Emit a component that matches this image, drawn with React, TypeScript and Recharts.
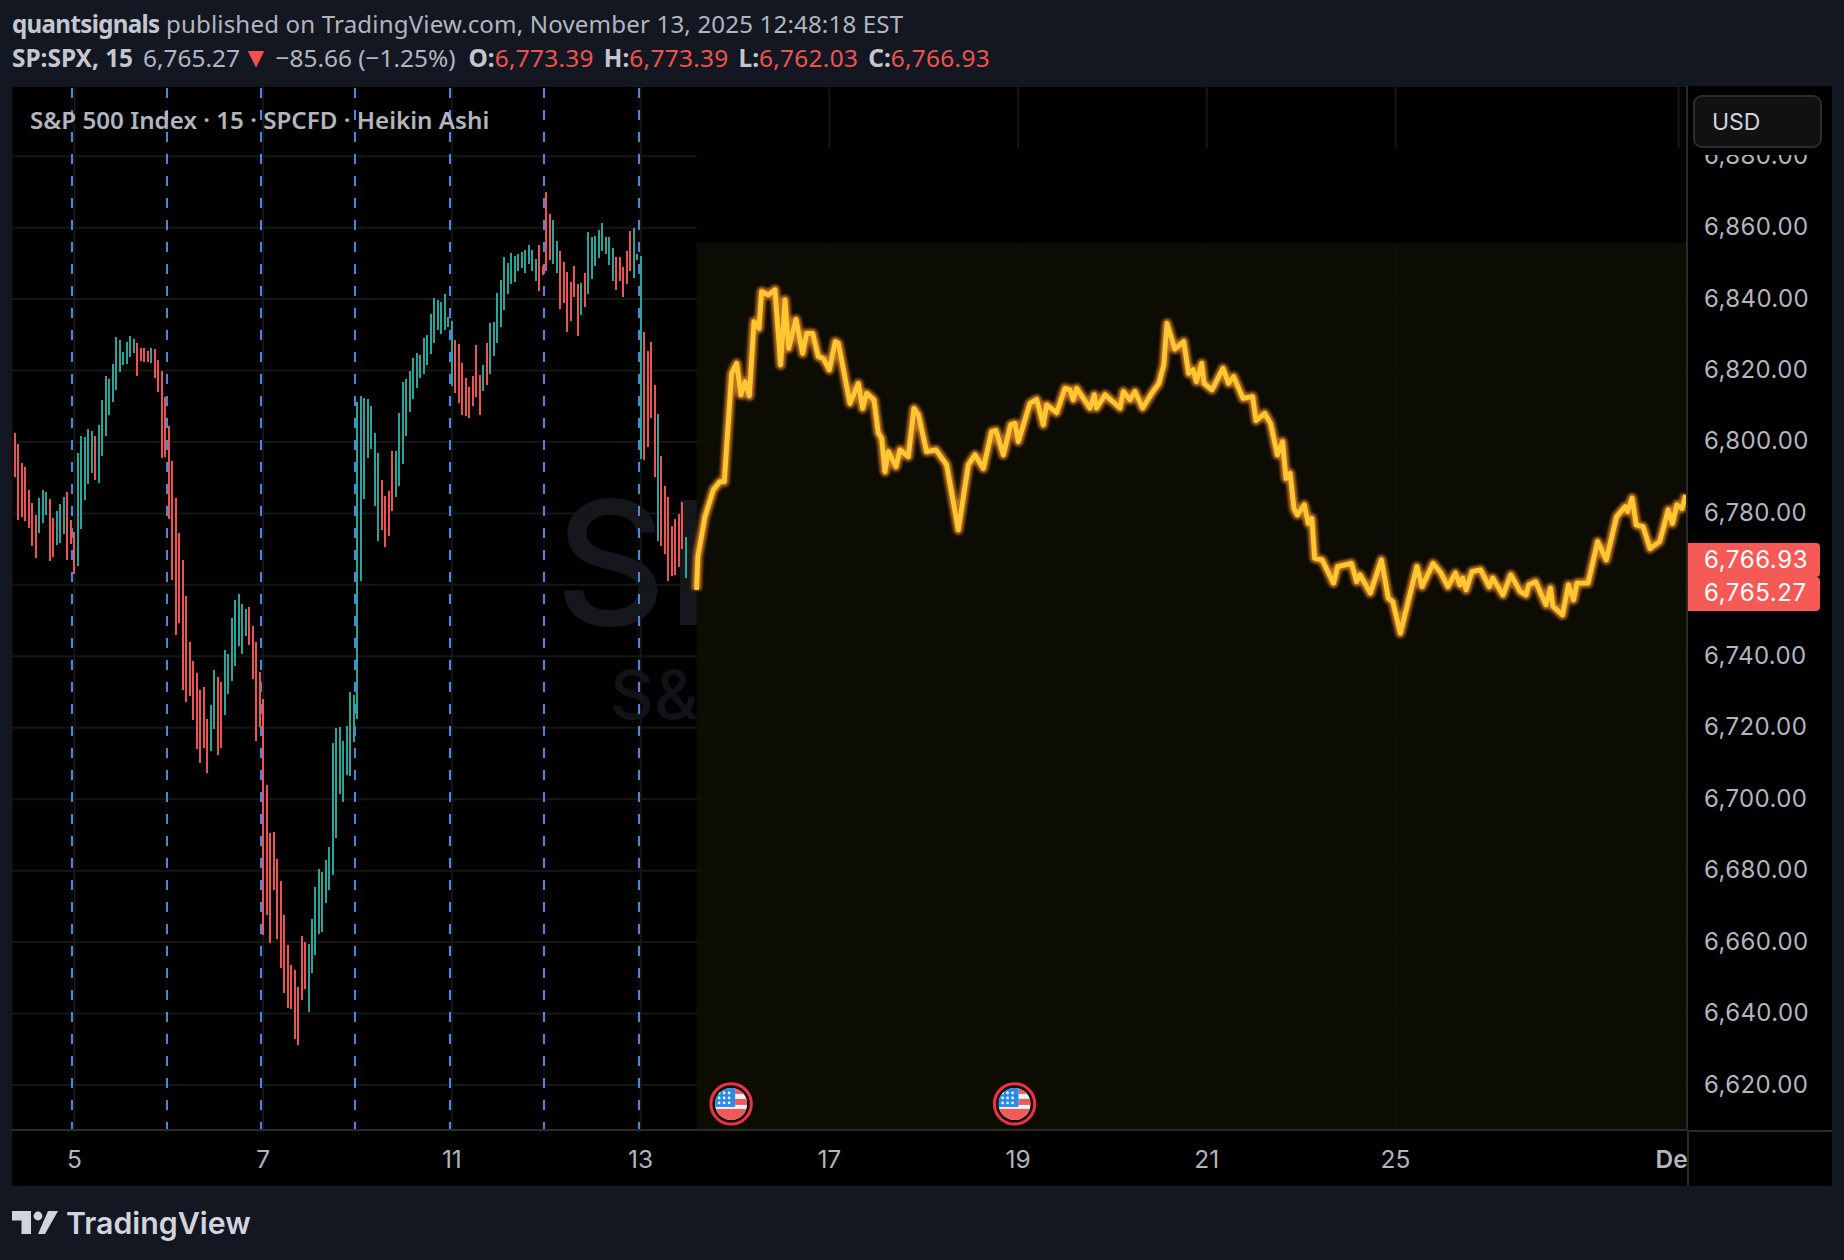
import React from 'react'
import {
  ComposedChart, Bar, Line, XAxis, YAxis, CartesianGrid,
  ReferenceLine, ReferenceArea, ReferenceDot,
} from 'recharts'

const PAGE = '#131722'
const GREEN = '#26a69a'
const RED = '#ef5350'
const TAG_RED = '#f55a57'
const BLUE = '#4a86e8'
const GOLD = '#ffc832'
const TEXT = '#b2b5be'
const UI_FONT = '"Noto Sans", sans-serif'
const AXIS_FONT = 'Inter, sans-serif'

const barHigh = [
  6802.5, 6799.4, 6794.1, 6793, 6786.6, 6783, 6779.6, 6784.4, 6786.6, 6786, 6784.1, 6778.8, 6780.7, 6782.7, 6784.6, 6786, 6778.2, 6774.9, 6797, 6801.7,
  6801.4, 6803.6, 6803, 6801.6, 6804.7, 6811.7, 6818.4, 6817.6, 6821.8, 6829.4, 6828.5, 6825.2, 6828, 6829.6, 6828.8, 6827.7, 6826.3, 6826.3, 6825.4, 6826.3,
  6826, 6822.9, 6819.8, 6812.6, 6804.4, 6794.6, 6784.4, 6774.6, 6767, 6756.9, 6744.1, 6738.7, 6735.4, 6730.6, 6731.5, 6722.5, 6726.4, 6736.2, 6734.3, 6732.9,
  6741.8, 6740.7, 6750.8, 6755.8, 6757.5, 6754.7, 6753.3, 6753.9, 6748.5, 6744.1, 6735.7, 6728.1, 6704, 6690.6, 6690.9, 6683.3, 6677.1, 6667.6, 6659.2, 6653.6,
  6652.2, 6647.5, 6661.8, 6660.1, 6659.5, 6666.5, 6675.5, 6680.5, 6679.7, 6683, 6686.7, 6715.8, 6720, 6720.2, 6716.3, 6720.5, 6730.1, 6729.2, 6811.2, 6812.8,
  6812.3, 6812, 6810, 6802.5, 6796.9, 6789.3, 6784.9, 6786.3, 6797.4, 6797.4, 6808.1, 6816.8, 6817.6, 6819.8, 6823.5, 6824.9, 6824.3, 6829.1, 6829.9, 6835.8,
  6840.3, 6839.7, 6839.2, 6841.4, 6835, 6833.8, 6828.5, 6827.4, 6822.1, 6817.9, 6815.4, 6818.4, 6827.1, 6818.7, 6821.5, 6827.7, 6833.3, 6833.6, 6841.7, 6845.3,
  6851.7, 6850.1, 6852.9, 6852, 6852.6, 6853.1, 6853.7, 6855.1, 6853.7, 6851.2, 6855.1, 6849.2, 6869.9, 6863.8, 6862.1, 6856.2, 6853.4, 6850.3, 6847.6, 6844.8,
  6849.2, 6844.2, 6844.5, 6847.3, 6858.7, 6857.3, 6857.6, 6859.3, 6861.3, 6857.3, 6857.3, 6854.3, 6851.7, 6851.7, 6848.9, 6853.4, 6859, 6859.9, 6852.6, 6852,
  6830.8, 6825.4, 6827.9, 6815.9, 6807.8, 6796, 6787.7, 6784.6, 6776.5, 6778.4, 6779.8, 6783.2, 6773.4,
]

const barLow = [
  6790.3, 6778.2, 6779.1, 6777.9, 6776, 6771, 6767.6, 6774.6, 6777.4, 6779.6, 6766.7, 6767.9, 6771.2, 6771.8, 6774.3, 6767, 6771.5, 6763.1, 6765.3, 6775.7,
  6783.8, 6788.3, 6791.4, 6789.4, 6788.6, 6796.1, 6801.6, 6807.5, 6811.2, 6814.5, 6819.6, 6821.5, 6821.8, 6823.8, 6824.9, 6818.4, 6822.6, 6822.4, 6822.4, 6822.1,
  6817.9, 6814, 6795.5, 6795.8, 6778.5, 6761.4, 6746, 6749.4, 6730.6, 6727.3, 6729, 6722.2, 6714.1, 6710.2, 6714.4, 6707.4, 6713.6, 6719.7, 6712.4, 6714.4,
  6723.6, 6729.5, 6733.1, 6737.3, 6743, 6740.7, 6745.7, 6743.2, 6733.7, 6716.4, 6720.3, 6662, 6667.6, 6659.8, 6674.6, 6660.9, 6652.8, 6645.8, 6641.6, 6641.3,
  6632.9, 6631.2, 6643.8, 6646.9, 6640.5, 6651.4, 6656.4, 6662.3, 6662.9, 6671, 6674.6, 6678.8, 6689.2, 6701.5, 6699.3, 6706.8, 6706.5, 6716.1, 6722.5, 6761.1,
  6784, 6795.5, 6798, 6782.1, 6772.3, 6775.3, 6770.6, 6773.7, 6780.7, 6784.6, 6787.7, 6793.8, 6801.6, 6808.4, 6812, 6815.1, 6817.9, 6819, 6821.5, 6824.6,
  6827.7, 6831.3, 6830.2, 6831.3, 6832.2, 6815.6, 6813.7, 6810.9, 6807.5, 6807.2, 6806.7, 6810, 6812.6, 6807.5, 6814.2, 6815.9, 6819, 6824, 6827.7, 6832.2,
  6836.9, 6841.4, 6844.2, 6844.8, 6847.8, 6848.7, 6847.3, 6849.8, 6847.8, 6845, 6842.2, 6846.7, 6847.8, 6850.9, 6849.8, 6847.3, 6837.2, 6838.9, 6830.8, 6833.8,
  6840.6, 6829.6, 6835.5, 6837.8, 6841.4, 6845.6, 6849.2, 6851.5, 6853.4, 6852.6, 6849.5, 6845, 6842.5, 6845, 6840.6, 6844.2, 6847.8, 6845.9, 6850.9, 6795.2,
  6794.9, 6798.6, 6806.7, 6790.2, 6772.3, 6770.9, 6768.6, 6761.1, 6762.5, 6762.8, 6765, 6770, 6761.9,
]

// g = close above open, r = below, one letter per bar
const barDirs =
  'rrrrrrrgggrrgggrrrgggggrgggggggggggrrrrg' +
  'rrrrrrrrrrrrrrrrggrrgggggggrrrrrrrrrrrrrrr' +
  'rrgggggggggggggggggggggrrrrggggggggggggggggg' +
  'rrrrrrrrgrggggggggggggggrrrrggrrrrrrgrgggggggg' +
  'rrrrrgggrrrrgrrrrrrrggr'

const lineSlot = [
  195, 195.4, 197.42, 199.81, 201.71, 202.95, 205.05, 206.48, 207.72, 208.87, 210.11, 211.44, 212.87, 213.63, 215.54, 217.45, 219.07, 220.31, 221.36, 223.46,
  225.37, 226.51, 228.23, 229.85, 231.28, 233, 234.71, 235.57, 238.91, 241.29, 242.53, 243.68, 245.77, 247.01, 247.97, 248.92, 249.88, 252.07, 253.21, 255.6,
  257.22, 258.46, 260.84, 263.51, 266.57, 269.9, 272.77, 274.67, 277.06, 279.44, 280.68, 282.78, 284.88, 286.11, 287.07, 290.41, 292.32, 294.22, 295.18, 298.04,
  300.42, 301.85, 302.8, 303.76, 307.57, 308.81, 309.48, 311.87, 316.16, 317.11, 319.02, 320.45, 322.64, 325.22, 327.3, 328.7, 329.6, 331.84, 334.4, 335.8,
  337.07, 338.05, 339.53, 340.22, 342.49, 345.64, 347.21, 348.69, 351.35, 354.11, 355.1, 357.56, 359.24, 361.2, 362.68, 363.67, 364.85, 365.94, 366.92, 368.89,
  370.07, 371.06, 371.85, 374.02, 377.27, 378.45, 382.39, 383.87, 384.85, 387.81, 390.96, 392.93, 394.21, 396.38, 401.11, 402.59, 405.74, 408.01, 409.98, 412.15,
  413.43, 414.22, 415.2, 416.88, 419.34, 421.8, 422.79, 425.75, 428.01, 430.67, 432.34, 433.13, 435.1, 438.06, 439.34, 440.03, 442.79, 444.46, 445.94, 446.93,
  450.08, 452.84, 455.3, 458.26, 460.72, 461.41, 462.69, 463.87, 465.84, 467.82, 470.57, 471.75, 473.03, 474.22, 475.5, 476.98, 478.06,
]

const linePrice = [
  6758.6, 6768, 6779.1, 6786.6, 6788.9, 6788.9, 6819.2, 6822, 6813.2, 6816.9, 6812.9, 6833.7, 6831.8, 6842.1, 6841.2, 6842.6, 6821.6, 6839.8, 6826.2, 6834.3,
  6824.8, 6830.4, 6830.4, 6823.9, 6823.4, 6820.2, 6828.1, 6827.6, 6810.8, 6816.4, 6809.4, 6813.6, 6811.8, 6802.5, 6801, 6791.7, 6797.3, 6793.1, 6797.8, 6795.9,
  6809.4, 6807.6, 6797.3, 6797.8, 6793.6, 6775.4, 6793.6, 6796.4, 6792.6, 6802.9, 6803.2, 6796.4, 6804.8, 6805.2, 6800.1, 6810.8, 6811.9, 6804.8, 6810.4, 6808.2,
  6815, 6814.6, 6811.8, 6815, 6809.5, 6813.2, 6809.5, 6813.2, 6809.5, 6814.1, 6811.8, 6814.1, 6809.5, 6813.6, 6816.4, 6821.6, 6833.2, 6826, 6828.1, 6819.2,
  6820.2, 6816.9, 6822, 6816.4, 6814.6, 6820.6, 6816.4, 6818.3, 6812.2, 6812.7, 6806, 6808, 6805.2, 6796.4, 6800.1, 6789.8, 6791.2, 6781.4, 6779.6, 6782.4,
  6777.2, 6778.6, 6767.5, 6767, 6760.5, 6765.1, 6766, 6760.9, 6762.8, 6757.7, 6767, 6756.3, 6755.3, 6746.5, 6765.1, 6759.5, 6766, 6763.3, 6759.5, 6763.3,
  6760, 6761.9, 6758.6, 6763.7, 6764.2, 6759.5, 6761.9, 6757.2, 6762.8, 6758.1, 6757.2, 6760, 6760.9, 6754.4, 6759.1, 6754, 6751.6, 6760, 6755.8, 6760.5,
  6760.5, 6772.1, 6767, 6779.1, 6781.9, 6780.5, 6784.3, 6776.8, 6776.3, 6770.2, 6772.1, 6776.3, 6781, 6777.2, 6782.4, 6781.4, 6785.2,
]

const priceTicks = [6620, 6640, 6660, 6680, 6700, 6720, 6740, 6760, 6780, 6800, 6820, 6840, 6860, 6880]
const hiddenPriceTick = 6760 // sits under the last-price tags
const xTickSlots = [17, 71, 125, 179, 233, 287, 341, 395, 476]
const xTickLabels = ['5', '7', '11', '13', '17', '19', '21', '25', 'De']
const sessionSlots = [16.3, 43.5, 70.4, 97.3, 124.5, 151.4, 178.6]
const newsSlots = [204.9, 286]
const lastPrices = ['6,766.93', '6,765.27']
const ohlc = [
  ['O:', '6,773.39'],
  ['H:', '6,773.39'],
  ['L:', '6,762.03'],
  ['C:', '6,766.93'],
]

const rows = [
  ...barHigh.map((h, i) => ({ slot: i, range: [barLow[i], h], dir: barDirs[i] })),
  ...lineSlot.map((s, i) => ({ slot: s, price: linePrice[i] })),
]

function priceLabel(v: number) {
  if (v === hiddenPriceTick) return ''
  return v.toLocaleString('en-US', { minimumFractionDigits: 2 })
}

// 2px stick snapped to the pixel grid, like the chart canvas does
function Stick({ x, y, width, height, payload }: any) {
  if (!payload || !payload.dir) return null
  return (
    <rect
      x={Math.round(x + width / 2 - 1)}
      y={y}
      width={2}
      height={height}
      fill={payload.dir === 'g' ? GREEN : RED}
      shapeRendering="crispEdges"
    />
  )
}

function DateTick({ x, y, payload }: any) {
  const label = xTickLabels[xTickSlots.indexOf(payload.value)]
  const month = label === 'De'
  return (
    <text
      x={month ? x - 7 : x}
      y={y}
      fill={TEXT}
      fontSize={24.5}
      fontWeight={month ? 600 : 400}
      fontFamily={AXIS_FONT}
      textAnchor="middle"
      dominantBaseline="central"
    >
      {label}
    </text>
  )
}

function FlagMark({ cx, cy, index }: any) {
  const id = `flag${index}`
  const stars: React.ReactNode[] = []
  for (const dy of [-11, -6, -1]) {
    for (const dx of [-12, -7, -2]) stars.push(<circle key={`${dx}${dy}`} cx={cx + dx} cy={cy + dy} r={1.3} fill="#fff" />)
  }
  return (
    <g>
      <circle cx={cx} cy={cy} r={20.2} fill="#131313" stroke="#f2303f" strokeWidth={3} />
      <clipPath id={id}>
        <circle cx={cx} cy={cy} r={16} />
      </clipPath>
      <g clipPath={`url(#${id})`}>
        <rect x={cx - 16} y={cy - 16} width={32} height={32} fill="#f4f4f4" />
        <rect x={cx + 4} y={cy - 16} width={12} height={6} fill="#f05a5a" />
        <rect x={cx + 4} y={cy - 5} width={12} height={6} fill="#f05a5a" />
        <rect x={cx - 16} y={cy + 5} width={32} height={12} fill="#f05a5a" />
        <rect x={cx - 16} y={cy - 16} width={20} height={19} fill="#2a8be8" />
        {stars}
      </g>
    </g>
  )
}

function Header() {
  return (
    <>
      <div style={{ position: 'absolute', left: 12, top: 7, fontSize: 24.1, letterSpacing: 0.15, color: TEXT, whiteSpace: 'nowrap', fontFamily: UI_FONT }}>
        <b style={{ color: '#c4c7d0', letterSpacing: -0.65 }}>quantsignals</b> published on TradingView.com, November 13, 2025 12:48:18 EST
      </div>
      <div style={{ position: 'absolute', left: 12, top: 41, fontSize: 24.4, color: TEXT, whiteSpace: 'nowrap', fontFamily: UI_FONT }}>
        <b style={{ color: '#c4c7d0' }}>SP:SPX, 15</b>
        <span style={{ marginLeft: 10 }}>6,765.27</span>
        <span style={{ color: RED, fontSize: 28, lineHeight: '20px', marginLeft: 2, marginRight: 6 }}>▼</span>−85.66 (−1.25%)
        {ohlc.map(([k, v], i) => (
          <span key={k} style={{ marginLeft: i === 0 ? 13 : 10 }}>
            <b style={{ color: '#c4c7d0' }}>{k}</b>
            <span style={{ color: RED, letterSpacing: 0.3 }}>{v}</span>
          </span>
        ))}
      </div>
    </>
  )
}

function Logo() {
  return (
    <div style={{ position: 'absolute', left: 12, top: 1206 }}>
      <svg width={46} height={24} style={{ position: 'absolute', left: 0, top: 5 }}>
        <path d="M0 0H19V23H9.5V9.5H0Z" fill="#d1d4dc" />
        <circle cx={26} cy={5} r={4.4} fill="#d1d4dc" />
        <path d="M36 0H46L33 23H26Z" fill="#d1d4dc" />
      </svg>
      <div style={{ position: 'absolute', left: 54, top: -1, fontFamily: AXIS_FONT, fontWeight: 600, fontSize: 30.3, color: '#d1d4dc' }}>
        TradingView
      </div>
    </div>
  )
}

export default function App() {
  return (
    <div style={{ position: 'absolute', left: 0, top: 0, width: 1844, height: 1260, background: PAGE, overflow: 'hidden' }}>
      <Header />
      <div style={{ position: 'absolute', left: 12, top: 86, width: 1820, height: 1100, background: '#000' }} />

      {/* watermark sits under the chart and stops where the gold panel starts */}
      <div style={{ position: 'absolute', left: 555, top: 478, width: 142, height: 270, overflow: 'hidden', fontFamily: AXIS_FONT, whiteSpace: 'nowrap' }}>
        <div style={{ position: 'absolute', left: 0, top: -20, fontSize: 172, fontWeight: 500, color: '#15171c' }}>SPX</div>
        <div style={{ position: 'absolute', left: 55, top: 175, fontSize: 68, fontWeight: 500, color: '#111317' }}>S&amp;P 500</div>
      </div>

      <div style={{ position: 'absolute', left: 0, top: 0 }}>
        <ComposedChart
          width={1844}
          height={1260}
          data={rows}
          margin={{ top: 86, right: 12, bottom: 74, left: 11.5 }}
        >
          <defs>
            <filter id="glow" x="-5%" y="-5%" width="110%" height="110%">
              <feGaussianBlur stdDeviation="1.5" />
            </filter>
          </defs>
          <CartesianGrid stroke="#161616" strokeWidth={2} />
          <XAxis
            type="number"
            dataKey="slot"
            domain={[-1, 478.4]}
            allowDataOverflow
            ticks={xTickSlots}
            interval={0}
            tick={<DateTick />}
            tickLine={false}
            tickSize={0}
            tickMargin={29}
            height={56}
            axisLine={{ stroke: '#2a2a2a', strokeWidth: 2 }}
          />
          <YAxis
            orientation="right"
            type="number"
            domain={[6607.4, 6899.65]}
            allowDataOverflow
            ticks={priceTicks}
            interval={0}
            width={145}
            tickSize={0}
            tickMargin={17}
            tickFormatter={priceLabel}
            tick={{ fill: TEXT, fontSize: 24, fontFamily: AXIS_FONT, dy: -1, letterSpacing: 0.4 }}
            axisLine={{ stroke: '#2a2a2a', strokeWidth: 2 }}
          />
          <ReferenceArea x1={195} x2={478.4} y1={6855.7} y2={6882.3} fill="#000" fillOpacity={1} />
          <ReferenceArea x1={195} x2={478.4} y1={6607.4} y2={6855.7} fill="#0e0d05" fillOpacity={0.88} />
          {sessionSlots.map((s) => (
            <ReferenceLine key={s} x={s} stroke={BLUE} strokeWidth={2} strokeDasharray="10 12" strokeDashoffset={1.5} shapeRendering="crispEdges" />
          ))}
          <Bar dataKey="range" barSize={2} shape={<Stick />} zIndex={450} isAnimationActive={false} />
          <Line dataKey="price" type="linear" stroke="#c07020" strokeWidth={9.5} strokeLinejoin="round" dot={false} activeDot={false} isAnimationActive={false} style={{ filter: 'url(#glow)' }} />
          <Line dataKey="price" type="linear" stroke={GOLD} strokeWidth={4.8} strokeLinejoin="round" dot={false} activeDot={false} isAnimationActive={false} />
          {newsSlots.map((s, i) => (
            <ReferenceDot key={s} x={s} y={6614.7} shape={(p: any) => <FlagMark {...p} index={i} />} />
          ))}
        </ComposedChart>
      </div>

      <div style={{ position: 'absolute', left: 1687, top: 1130, width: 2, height: 56, background: '#2a2a2a' }} />
      <div style={{ position: 'absolute', left: 1687, top: 1130, width: 145, height: 2, background: '#2a2a2a' }} />

      <div style={{ position: 'absolute', left: 30, top: 103, fontFamily: UI_FONT, fontWeight: 600, fontSize: 24.2, color: TEXT, whiteSpace: 'nowrap' }}>
        S&amp;P 500 Index · 15 · SPCFD · Heikin Ashi
      </div>

      {/* the currency button hides the top half of the highest price label */}
      <div style={{ position: 'absolute', left: 1689, top: 86, width: 143, height: 69, background: '#000' }} />
      <div style={{ position: 'absolute', left: 1693, top: 95, width: 129, height: 53, boxSizing: 'border-box', background: '#111', border: '2px solid #2c2c2c', borderRadius: 9, color: '#d1d4dc', fontFamily: AXIS_FONT, fontSize: 23, lineHeight: '51px', paddingLeft: 17 }}>
        USD
      </div>

      {lastPrices.map((p, i) => (
        <div key={p} style={{ position: 'absolute', left: 1688, top: 543 + i * 34, width: 132, height: 34, background: TAG_RED, borderRadius: '0 4px 4px 0', lineHeight: i === 0 ? '33px' : '32px', color: '#fff', fontFamily: AXIS_FONT, fontSize: 24, letterSpacing: 0.6, textIndent: 16 }}>
          {p}
        </div>
      ))}

      <Logo />
    </div>
  )
}
